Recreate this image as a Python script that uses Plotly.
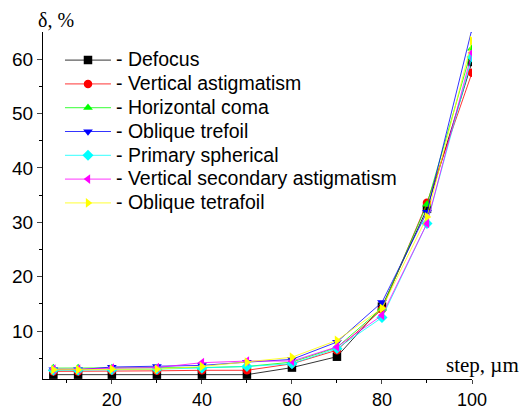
import plotly.graph_objects as go

steps = [7, 12.5, 20, 30, 40, 50, 60, 70, 80, 90, 100]
names = ["Defocus", "Vertical astigmatism", "Horizontal coma", "Oblique trefoil",
         "Primary spherical", "Vertical secondary astigmatism", "Oblique tetrafoil"]
defocus = [2.0, 2.0, 2.0, 2.0, 2.0, 2.0, 3.3, 5.3, 14.5, 32.5, 59.5]
vert_astig = [2.6, 2.6, 2.7, 2.7, 2.8, 2.8, 4.0, 6.5, 14.0, 33.6, 57.5]
horiz_coma = [3.2, 3.2, 3.2, 3.2, 3.3, 3.5, 4.3, 7.0, 14.2, 33.3, 62.0]
obl_trefoil = [2.9, 2.9, 3.4, 3.5, 3.7, 4.3, 4.8, 8.0, 15.3, 31.9, 65.6]
prim_spher = [2.8, 2.8, 2.9, 3.0, 3.2, 3.5, 4.0, 6.8, 12.5, 29.8, 60.4]
vert_sec_astig = [3.0, 3.0, 3.2, 3.3, 4.2, 4.5, 4.5, 7.1, 12.9, 29.8, 61.2]
obl_tetrafoil = [2.9, 2.9, 3.0, 3.0, 3.5, 4.3, 5.2, 8.3, 14.2, 31.0, 63.4]

series = [defocus, vert_astig, horiz_coma, obl_trefoil, prim_spher, vert_sec_astig, obl_tetrafoil]
colors = ["#000000", "#FF0000", "#00FF00", "#0000FF", "#00FFFF", "#FF00FF", "#FFFF00"]
symbols = ["square", "circle", "triangle-up", "triangle-down", "diamond", "triangle-left", "triangle-right"]

fig = go.Figure()
for name, ys, c, s in zip(names, series, colors, symbols):
    fig.add_trace(go.Scatter(
        x=steps, y=ys, mode="lines+markers",
        name='<span style="font-size:19.5px">- ' + name + '</span>',
        line=dict(color=c, width=0.8),
        marker=dict(symbol=s, size=8.5, color=c, line=dict(width=0)),
        cliponaxis=True,
    ))

axis_font = dict(family="Liberation Sans, Arial", size=18, color="#000000")
fig.update_layout(
    width=521, height=402,
    margin=dict(l=35, r=57, t=24, b=31),
    paper_bgcolor="white", plot_bgcolor="white",
    showlegend=True,
    legend=dict(x=0.0396, y=0.9677, xanchor="left", yanchor="top",
                bgcolor="rgba(0,0,0,0)", font=dict(family="Liberation Sans, Arial", size=16, color="#000000"),
                tracegroupgap=0, itemwidth=46),
    xaxis=dict(range=[4.7, 100], tickvals=[20, 40, 60, 80, 100], ticks="outside", ticklen=4,
               tickwidth=1, showline=True, linecolor="black", linewidth=1, showgrid=False,
               zeroline=False, tickfont=axis_font, automargin=False,
               minor=dict(tickvals=[10, 30, 50, 70, 90], ticks="outside", ticklen=3, tickcolor="black")),
    yaxis=dict(range=[1.2, 65], tickvals=[10, 20, 30, 40, 50, 60], ticks="outside", ticklen=5,
               tickwidth=1, showline=True, linecolor="black", linewidth=1, showgrid=False,
               zeroline=False, tickfont=dict(family="Liberation Sans, Arial", size=19, color="#000000"),
               automargin=False,
               minor=dict(tickvals=[5, 15, 25, 35, 45, 55], ticks="outside", ticklen=3, tickcolor="black")),
    annotations=[
        dict(text="δ, %", xref="paper", yref="paper", x=-0.016, y=1.0, xanchor="left", yanchor="middle",
             yshift=12, showarrow=False, font=dict(family="Liberation Serif, Times New Roman", size=20, color="black")),
        dict(text="step, µm", xref="paper", yref="paper", x=1.114, y=0.04, xanchor="right", yanchor="middle",
             showarrow=False, font=dict(family="Liberation Serif, Times New Roman", size=21, color="black")),
    ],
)

fig.write_html("out.html")
